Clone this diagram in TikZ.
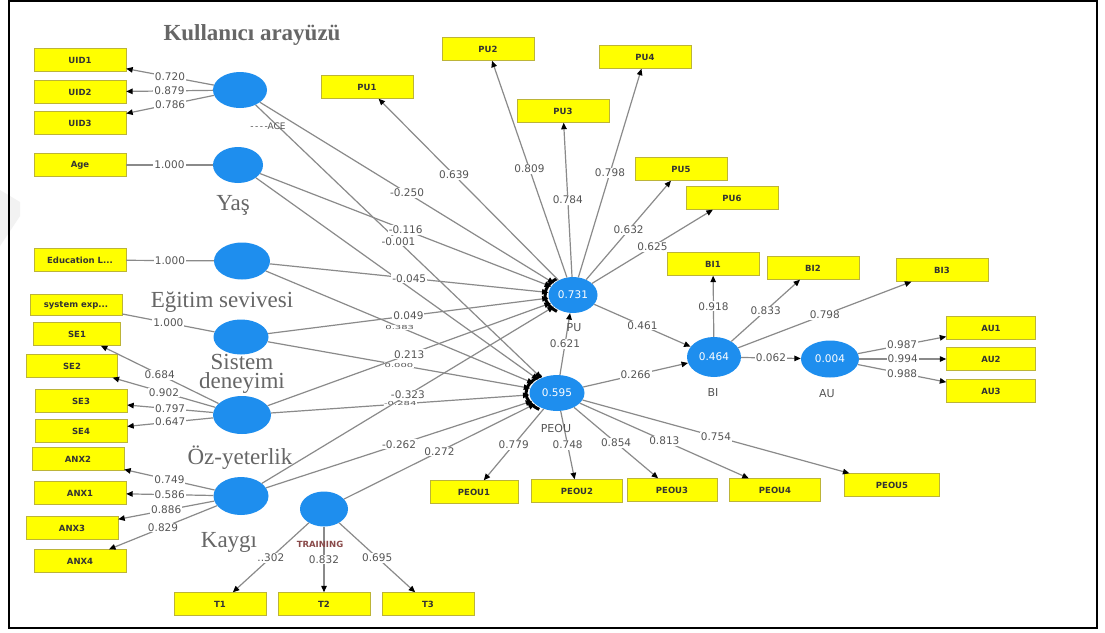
\documentclass[tikz,border=0pt]{standalone}
\usepackage{fontspec}
\setmainfont{Liberation Serif}
\setsansfont{DejaVu Sans}
\usetikzlibrary{shapes.geometric,arrows.meta}
\definecolor{latblue}{HTML}{1E8EEE}
\definecolor{indyel}{HTML}{FFFF00}
\definecolor{lnk}{HTML}{8A8A8A}
\definecolor{txtgray}{HTML}{555555}
\definecolor{capgray}{HTML}{666666}
\definecolor{trred}{HTML}{8A4A4A}

\begin{document}
\begin{tikzpicture}[x=1pt,y=-1pt,
  ind/.style={rectangle,fill=indyel,draw=yellow!70!black,line width=0.4pt,
    minimum width=92pt,minimum height=23pt,inner sep=0pt,
    font=\sffamily\bfseries\fontsize{8.5}{9}\selectfont,text=black!80},
  lat/.style={ellipse,fill=latblue,minimum width=54pt,minimum height=37pt,
    inner sep=0pt,text=white,font=\sffamily\fontsize{10.5}{11}\selectfont},
  link/.style={draw=lnk,line width=1.2pt},
  tip/.style={link,-{Triangle[length=6.5pt,width=5.5pt,color=black]}},
  coef/.style={font=\sffamily\fontsize{10.5}{11}\selectfont,text=txtgray,
    fill=white,inner sep=1pt},
  faded/.style={font=\sffamily\fontsize{10}{10}\selectfont,text=txtgray,
    fill=white,inner sep=0.5pt},
  captxt/.style={font=\fontsize{23}{19}\selectfont,text=capgray,align=center},
  lvname/.style={font=\sffamily\fontsize{11}{12}\selectfont,text=txtgray},
  conv/.style={line width=3pt,black}
]
\useasboundingbox (0,0) rectangle (1105,632);
\fill[white] (0,0) rectangle (1105,632);
% faint mark on the left margin
\fill[black!5] (0,190) -- (20,202) -- (20,216) -- (0,246) -- cycle;

% ---------- latent variables ----------
\node[lat,minimum width=54pt,minimum height=36pt] (ui)   at (240,90)  {};
\node[lat,minimum width=50pt,minimum height=36pt] (yas)  at (238,165) {};
\node[lat,minimum width=56pt,minimum height=37pt] (eduL) at (242,261) {};
\node[lat,minimum width=55pt,minimum height=35pt] (sysL) at (241,337) {};
\node[lat,minimum width=58pt,minimum height=38pt] (seL)  at (242,415) {};
\node[lat,minimum width=55pt,minimum height=38pt] (anxL) at (241,496) {};
\node[lat,minimum width=48pt,minimum height=35pt] (tr)   at (324,509) {};
\node[lat,minimum width=49pt,minimum height=36pt] (pu)   at (573,295) {0.731};
\node[lat,minimum width=55pt,minimum height=36pt] (peou) at (557,393) {0.595};
\node[lat,minimum height=40pt] (bi)   at (714,357) {0.464};
\node[lat,minimum width=58pt] (au)   at (830,359) {0.004};

% ---------- indicators ----------
\node[ind] (uid1) at (80,60)  {UID1};
\node[ind] (uid2) at (80,92)  {UID2};
\node[ind] (uid3) at (80,123) {UID3};
\node[ind] (age)  at (80,165) {Age};
\node[ind] (edu)  at (80,260) {Education L...};
\node[ind,minimum height=21pt] (sysx) at (76,305) {system exp...};
\node[ind,minimum width=87pt] (se1) at (77,334) {SE1};
\node[ind,minimum width=91pt] (se2) at (72,366) {SE2};
\node[ind] (se3)  at (81,401) {SE3};
\node[ind] (se4)  at (81,431) {SE4};
\node[ind] (anx2) at (78,459) {ANX2};
\node[ind] (anx1) at (80,493) {ANX1};
\node[ind] (anx3) at (72,528) {ANX3};
\node[ind] (anx4) at (80,561) {ANX4};
\node[ind] (t1) at (220,604) {T1};
\node[ind] (t2) at (324,604) {T2};
\node[ind] (t3) at (428,604) {T3};

\node[ind] (pu1) at (367,87)  {PU1};
\node[ind] (pu2) at (488,49)  {PU2};
\node[ind] (pu3) at (563,111) {PU3};
\node[ind] (pu4) at (645,57)  {PU4};
\node[ind] (pu5) at (681,169) {PU5};
\node[ind] (pu6) at (732,198) {PU6};
\node[ind] (bi1) at (713,264) {BI1};
\node[ind] (bi2) at (813,268) {BI2};
\node[ind] (bi3) at (942,270) {BI3};
\node[ind,minimum width=89pt] (au1) at (991,328) {AU1};
\node[ind,minimum width=89pt] (au2) at (991,359) {AU2};
\node[ind,minimum width=89pt] (au3) at (991,391) {AU3};
\node[ind,minimum width=88pt] (peou1) at (474,492) {PEOU1};
\node[ind,minimum width=91pt] (peou2) at (577,491) {PEOU2};
\node[ind,minimum width=90pt] (peou3) at (672,490) {PEOU3};
\node[ind,minimum width=91pt] (peou4) at (775,490) {PEOU4};
\node[ind,minimum width=95pt] (peou5) at (892,485) {PEOU5};

% ---------- structural paths ----------
\draw[tip] (ui)   -- node[coef]{-0.250} (pu);
\draw[tip] (ui)   -- node[coef]{-0.001} (peou);
\draw[tip] (yas)  -- node[coef]{-0.116} (pu);
\draw[tip] (yas)  -- (peou);
\draw[tip] (eduL) -- node[coef]{-0.045} (pu);
\draw[tip] (eduL) -- node[faded]{\scalebox{1}[0.55]{0.383}} (peou);
\draw[tip] (sysL) -- node[coef]{0.049} (pu);
\draw[tip] (sysL) -- node[faded]{\scalebox{1}[0.55]{0.000}} (peou);
\draw[tip] (seL)  -- node[coef]{0.213} (pu);
\draw[tip] (seL)  -- node[faded]{\scalebox{1}[0.55]{-0.284}} (peou);
\draw[tip] (anxL) -- node[coef]{-0.323} (pu);
\draw[tip] (anxL) -- node[coef]{-0.262} (peou);
\draw[tip] (tr)   -- node[coef]{0.272} (peou);
\draw[tip] (peou) -- node[coef]{0.621} (pu);
\draw[tip] (pu)   -- node[coef]{0.461} (bi);
\draw[tip] (peou) -- node[coef]{0.266} (bi);
\draw[tip] (bi)   -- node[coef]{0.062} (au);

% converging arrow heads
\draw[conv] (pu.center) ++(125:28pt and 20pt)
  arc[start angle=125,end angle=235,x radius=28pt,y radius=20pt];
\draw[conv] (peou.center) ++(120:31pt and 20pt)
  arc[start angle=120,end angle=235,x radius=31pt,y radius=20pt];

% ---------- measurement paths ----------
\draw[tip] (ui) -- node[coef]{0.720} (uid1);
\draw[tip] (ui) -- node[coef]{0.879} (uid2);
\draw[tip] (ui) -- node[coef]{0.786} (uid3);
\draw[link] (yas)  -- node[coef]{1.000} (age);
\draw[link] (eduL) -- node[coef]{1.000} (edu);
\draw[link] (sysL) -- node[coef]{1.000} (sysx);
\draw[tip] (seL) -- node[coef]{0.684} (se1);
\draw[tip] (seL) -- node[coef]{0.902} (se2);
\draw[tip] (seL) -- node[coef]{0.797} (se3);
\draw[tip] (seL) -- node[coef]{0.647} (se4);
\draw[tip] (anxL) -- node[coef]{0.749} (anx2);
\draw[tip] (anxL) -- node[coef]{0.586} (anx1);
\draw[tip] (anxL) -- node[coef]{0.886} (anx3);
\draw[tip] (anxL) -- node[coef]{0.829} (anx4);
\draw[tip] (tr) -- node[coef]{..302} (t1);
\draw[tip] (tr) -- node[coef]{0.832} (t2);
\draw[tip] (tr) -- node[coef]{0.695} (t3);

\draw[tip] (pu) -- node[coef,pos=0.58]{0.639} (pu1);
\draw[tip] (pu) -- node[coef]{0.809} (pu2);
\draw[tip] (pu) -- node[coef]{0.784} (pu3);
\draw[tip] (pu) -- node[coef]{0.798} (pu4);
\draw[tip] (pu) -- node[coef]{0.632} (pu5);
\draw[tip] (pu) -- node[coef]{0.625} (pu6);
\draw[tip] (bi) -- node[coef]{0.918} (bi1);
\draw[tip] (bi) -- node[coef]{0.833} (bi2);
\draw[tip] (bi) -- node[coef]{0.798} (bi3);
\draw[tip] (au) -- node[coef]{0.987} (au1);
\draw[tip] (au) -- node[coef]{0.994} (au2);
\draw[tip] (au) -- node[coef]{0.988} (au3);
\draw[tip] (peou) -- node[coef]{0.779} (peou1);
\draw[tip] (peou) -- node[coef]{0.748} (peou2);
\draw[tip] (peou) -- node[coef]{0.854} (peou3);
\draw[tip] (peou) -- node[coef]{0.813} (peou4);
\draw[tip] (peou) -- node[coef]{0.754} (peou5);

% ---------- names under the constructs ----------
\node[lvname] (puN)   at (574,328) {PU};
\node[lvname] (peouN) at (556,428) {PEOU};
\node[lvname] (biN)   at (713,392) {BI};
\node[lvname] (auN)   at (827,394) {AU};
\node[font=\sffamily\bfseries\fontsize{8.5}{9}\selectfont,text=trred] (trN) at (320,544) {TRAINING};
\node[font=\sffamily\fontsize{9}{9}\selectfont,text=txtgray] (uiN) at (268,126) {-\,-\,-\,-ACE};

% ---------- Turkish captions ----------
\node[captxt] (c1) at (252,35)  {\bfseries Kullanıcı arayüzü};
\node[captxt] (c2) at (233,205) {Yaş};
\node[captxt] (c3) at (222,302) {Eğitim sevivesi};
\node[captxt] (c4) at (242,374) {Sistem\\deneyimi};
\node[captxt] (c5) at (240,458) {Öz-yeterlik};
\node[captxt] (c6) at (229,542) {Kaygı};

% frame
\draw[line width=2pt] (9,1) rectangle (1097,628);
\end{tikzpicture}
\end{document}
